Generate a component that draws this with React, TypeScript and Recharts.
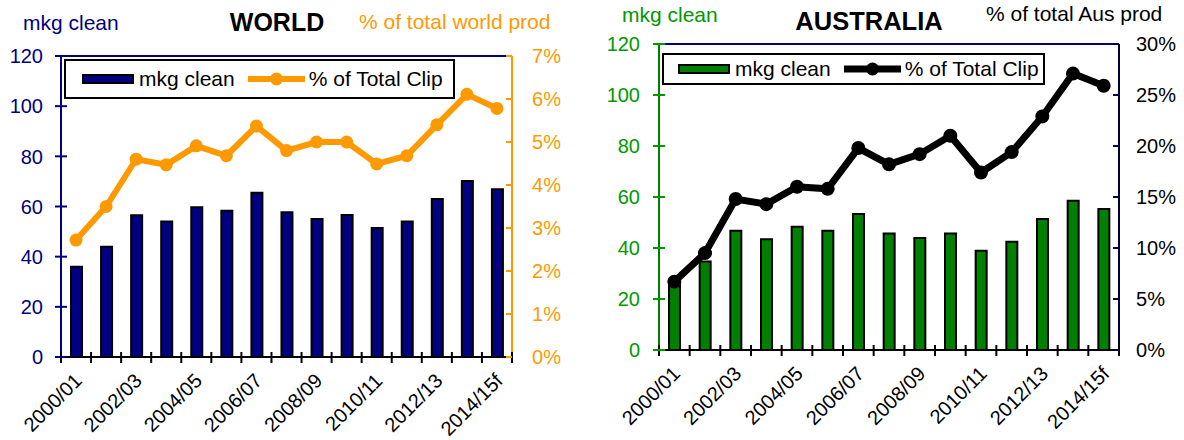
import { ComposedChart, Bar, Line, XAxis, YAxis, ReferenceLine, Legend } from "recharts";

/* ================= DATA ================= */
const seasons = [
  "2000/01", "2001/02", "2002/03", "2003/04", "2004/05", "2005/06", "2006/07", "2007/08",
  "2008/09", "2009/10", "2010/11", "2011/12", "2012/13", "2013/14", "2014/15f",
];
const worldMkg = [36, 44, 56.5, 54, 59.7, 58.3, 65.5, 57.7, 55, 56.6, 51.4, 54, 63, 70.2, 66.9];
const worldPct = [2.72, 3.5, 4.6, 4.47, 4.91, 4.68, 5.37, 4.8, 5.0, 5.0, 4.49, 4.68, 5.4, 6.11, 5.78];
const ausMkg = [27, 34.7, 46.8, 43.4, 48.3, 46.8, 53.3, 45.7, 43.9, 45.7, 38.9, 42.5, 51.4, 58.5, 55.3];
const ausPct = [6.7, 9.5, 14.8, 14.3, 16.0, 15.8, 19.8, 18.2, 19.2, 21.0, 17.4, 19.4, 22.9, 27.1, 25.9];

const mkgTicks = [0, 20, 40, 60, 80, 100, 120];
const worldPctTicks = [0, 1, 2, 3, 4, 5, 6, 7];
const ausPctTicks = [0, 5, 10, 15, 20, 25, 30];

const barName = "mkg clean";
const lineName = "% of Total Clip";

const FONT = "'Liberation Sans', Arial, sans-serif";

/* ================= TICKS ================= */
const leftTick = (color: string, gap: number) => (props: any) => {
  const { x, y, payload } = props;
  return (
    <g>
      <line x1={x - 6} x2={x + 6} y1={y} y2={y} stroke={color} strokeWidth={2} />
      <text x={x - gap} y={y} dy="0.36em" textAnchor="end" fill={color} fontSize={20} fontFamily={FONT}>
        {payload.value}
      </text>
    </g>
  );
};

const rightTick = (color: string, lineColor: string, gap: number) => (props: any) => {
  const { x, y, payload } = props;
  return (
    <g>
      <line x1={x - 6} x2={x} y1={y} y2={y} stroke={lineColor} strokeWidth={2} />
      <text x={x + gap} y={y} dy="0.36em" textAnchor="start" fill={color} fontSize={20} fontFamily={FONT}>
        {payload.value}%
      </text>
    </g>
  );
};

const bottomTick = (band: number) => (props: any) => {
  const { x, y, payload, index } = props;
  const lx = x + 7;
  const ly = y + 25;
  return (
    <g>
      <line x1={x - band / 2} x2={x - band / 2} y1={y - 5} y2={y + 6} stroke="#000" strokeWidth={2} />
      {index === seasons.length - 1 && (
        <line x1={x + band / 2} x2={x + band / 2} y1={y - 5} y2={y + 6} stroke="#000" strokeWidth={2} />
      )}
      {index % 2 === 0 && (
        <text
          x={lx}
          y={ly}
          textAnchor="end"
          fill="#000"
          fontSize={20}
          fontFamily={FONT}
          transform={`rotate(-45, ${lx}, ${ly})`}
        >
          {payload.value}
        </text>
      )}
    </g>
  );
};

/* ================= LEGEND ================= */
const legendBox = (height: number, padLeft: number, lineColor: string, lineW: number) => (props: any) => {
  const items = [...(props.payload || [])].sort(
    (a: any, b: any) => (a.type === "line" ? 1 : 0) - (b.type === "line" ? 1 : 0)
  );
  return (
    <div
      style={{
        display: "flex",
        alignItems: "center",
        boxSizing: "border-box",
        width: "100%",
        height,
        border: "2px solid #000",
        background: "#fff",
        paddingLeft: padLeft,
        fontFamily: FONT,
        fontSize: 21,
        color: "#000",
        whiteSpace: "nowrap",
      }}
    >
      {items.map((p: any) =>
        p.type === "line" ? (
          <span key={p.value} style={{ display: "flex", alignItems: "center" }}>
            <svg width={57} height={16} style={{ marginLeft: 13, marginRight: 4 }}>
              <line x1={0} x2={57} y1={8} y2={8} stroke={lineColor} strokeWidth={lineW} />
              <circle cx={28.5} cy={8} r={6.5} fill={lineColor} />
            </svg>
            <span>{p.value}</span>
          </span>
        ) : (
          <span key={p.value} style={{ display: "flex", alignItems: "center" }}>
            <svg width={52} height={10} style={{ marginRight: 5 }}>
              <rect x={1} y={1} width={50} height={8} fill={p.color} stroke="#000" strokeWidth={2} />
            </svg>
            <span>{p.value}</span>
          </span>
        )
      )}
    </div>
  );
};

/* ================= PANEL ================= */
interface PanelProps {
  left: number;
  width: number;
  top: number;
  xHeight: number;
  leftWidth: number;
  rightWidth: number;
  mkg: number[];
  pct: number[];
  pctTicks: number[];
  barColor: string;
  lineColor: string;
  lineWidth: number;
  dotR: number;
  leftColor: string;
  leftLine: string;
  rightColor: string;
  rightLine: string;
  rightGap: number;
  leftGap: number;
  legend: { left: number; top: number; width: number; height: number; pad: number };
}

function Panel(p: PanelProps) {
  const data = seasons.map((s, i) => ({ season: s, mkg: p.mkg[i], pct: p.pct[i] }));
  const plotW = p.width - p.leftWidth - p.rightWidth;
  const band = plotW / seasons.length;
  const pctMax = p.pctTicks[p.pctTicks.length - 1];

  return (
    <div style={{ position: "absolute", left: p.left, top: 0 }}>
      <ComposedChart
        width={p.width}
        height={440}
        data={data}
        margin={{ top: p.top, right: 0, bottom: 0, left: 0 }}
        barCategoryGap={0}
      >
        <XAxis
          dataKey="season"
          height={p.xHeight}
          interval={0}
          tickSize={0}
          tickMargin={0}
          tickLine={false}
          axisLine={{ stroke: "#000", strokeWidth: 2 }}
          tick={bottomTick(band)}
        />
        <YAxis
          yAxisId="left"
          orientation="left"
          width={p.leftWidth}
          domain={[0, 120]}
          ticks={mkgTicks}
          interval={0}
          tickSize={0}
          tickMargin={0}
          tickLine={false}
          axisLine={{ stroke: p.leftLine, strokeWidth: 2 }}
          tick={leftTick(p.leftColor, p.leftGap)}
        />
        <YAxis
          yAxisId="right"
          orientation="right"
          width={p.rightWidth}
          domain={[0, pctMax]}
          ticks={p.pctTicks}
          interval={0}
          tickSize={0}
          tickMargin={0}
          tickLine={false}
          axisLine={{ stroke: p.rightLine, strokeWidth: 2 }}
          tick={rightTick(p.rightColor, p.rightLine, p.rightGap)}
        />
        <ReferenceLine yAxisId="left" y={120} stroke="#000080" strokeWidth={2} />
        <Legend
          layout="vertical"
          align="center"
          verticalAlign="middle"
          wrapperStyle={{
            left: p.legend.left,
            top: p.legend.top,
            width: p.legend.width,
            height: p.legend.height,
          }}
          content={legendBox(p.legend.height, p.legend.pad, p.lineColor, p.lineWidth)}
        />
        <Bar
          yAxisId="left"
          dataKey="mkg"
          name={barName}
          fill={p.barColor}
          stroke="#000"
          strokeWidth={2}
          barSize={11}
          isAnimationActive={false}
        />
        <Line
          yAxisId="right"
          type="linear"
          dataKey="pct"
          name={lineName}
          stroke={p.lineColor}
          strokeWidth={p.lineWidth}
          dot={{ r: p.dotR, fill: p.lineColor, stroke: p.lineColor, strokeWidth: 0 }}
          activeDot={false}
          isAnimationActive={false}
        />
      </ComposedChart>
    </div>
  );
}

/* ================= APP ================= */
export default function App() {
  return (
    <div
      style={{
        position: "absolute",
        left: 0,
        top: 0,
        width: 1184,
        height: 440,
        background: "#fff",
        fontFamily: FONT,
        overflow: "hidden",
      }}
    >
      <Panel
        left={0}
        width={590}
        top={56}
        xHeight={83}
        leftWidth={61}
        rightWidth={78}
        mkg={worldMkg}
        pct={worldPct}
        pctTicks={worldPctTicks}
        barColor="#000080"
        lineColor="#FF9900"
        lineWidth={6}
        dotR={6.5}
        leftColor="#000080"
        leftLine="#000080"
        rightColor="#FF9900"
        rightLine="#FF9900"
        leftGap={18}
        rightGap={20}
        legend={{ left: 64, top: 59, width: 391, height: 40, pad: 16 }}
      />
      <Panel
        left={590}
        width={594}
        top={44}
        xHeight={90}
        leftWidth={69}
        rightWidth={65}
        mkg={ausMkg}
        pct={ausPct}
        pctTicks={ausPctTicks}
        barColor="#008000"
        lineColor="#000000"
        lineWidth={7}
        dotR={7}
        leftColor="#009900"
        leftLine="#008000"
        rightColor="#000000"
        rightLine="#000040"
        leftGap={19}
        rightGap={17}
        legend={{ left: 72, top: 53, width: 383, height: 32, pad: 14 }}
      />
      <svg
        width={1184}
        height={440}
        style={{ position: "absolute", left: 0, top: 0, pointerEvents: "none" }}
      >
        <g fontFamily={FONT}>
          <text x={23} y={30} fontSize={21} fill="#000080">mkg clean</text>
          <text x={277} y={31} fontSize={25} fontWeight="bold" textAnchor="middle" fill="#000">WORLD</text>
          <text x={359} y={28.5} fontSize={21} fill="#FF9900">% of total world prod</text>
          <text x={622} y={22} fontSize={21} fill="#009900">mkg clean</text>
          <text x={869} y={30} fontSize={25.5} fontWeight="bold" textAnchor="middle" fill="#000">AUSTRALIA</text>
          <text x={986} y={21} fontSize={21} fill="#000">% of total Aus prod</text>
        </g>
      </svg>
    </div>
  );
}
